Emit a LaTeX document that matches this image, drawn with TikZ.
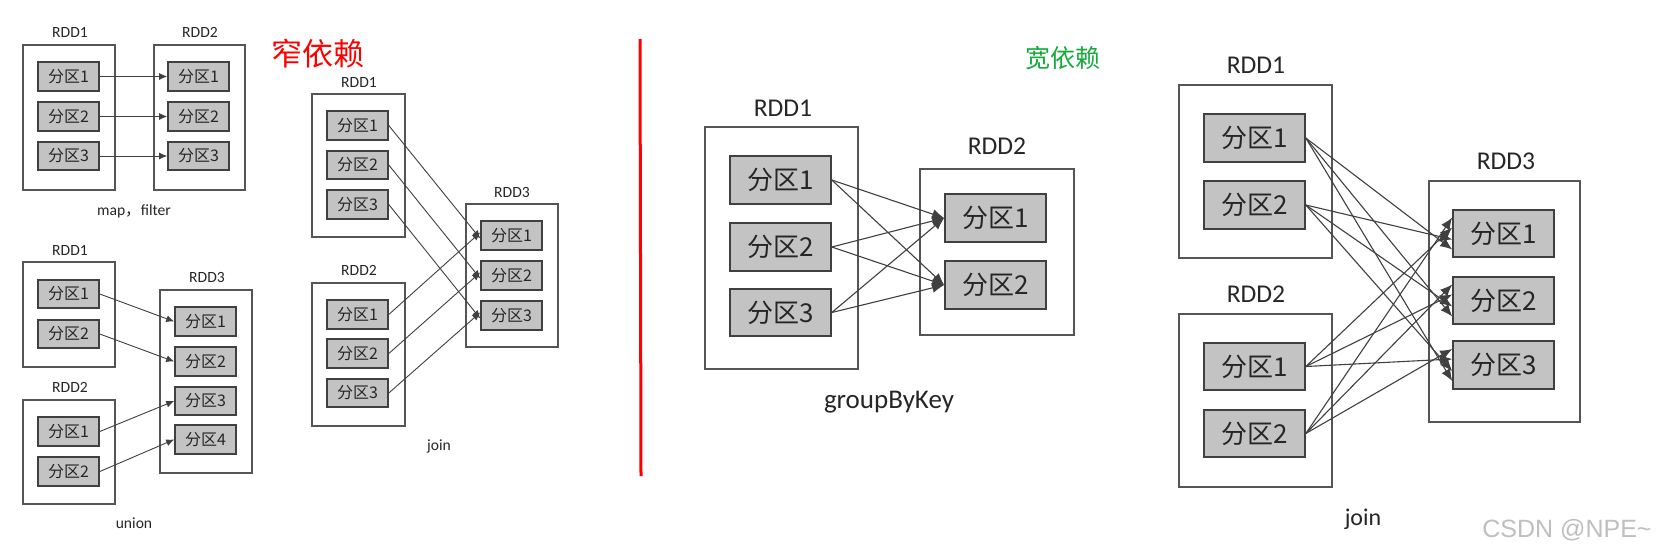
\documentclass[tikz,border=0pt]{standalone}
\usepackage{fontspec}
\setmainfont{Carlito}
\newfontfamily\cjk{Noto Sans CJK SC}
\newfontfamily\lsans{Liberation Sans}
\usetikzlibrary{arrows.meta}
\definecolor{pfill}{HTML}{C3C3C3}
\definecolor{bline}{HTML}{555555}
\tikzset{
  rdd/.style={draw=bline,line width=1.2pt,fill=white,inner sep=0},
  part/.style={draw=black!75,line width=1.6pt,fill=pfill,inner sep=0,text=black!85},
  lab/.style={text=black!85,inner sep=0},
  sarr/.style={draw=black!75,line width=0.9pt,-{Latex[length=8pt,width=7pt]}},
  larr/.style={draw=black!75,line width=1.1pt,-{Latex[length=12pt,width=10pt]}},
}
% \bx{name}{style}{x1}{y1}{x2}{y2}{text}
\newcommand\bx[7]{\node[#2,minimum width={(#5-#3)*1pt},minimum height={(#6-#4)*1pt}] (#1) at ({(#3+#5)/2},{(#4+#6)/2}) {#7};}
\begin{document}
\begin{tikzpicture}[x=1pt,y=-1pt]
\useasboundingbox (0,0) rectangle (1670,554);
\fill[white] (0,0) rectangle (1670,554);
% ---------- map, filter
\def\sf{\cjk\fontsize{16}{16}\selectfont}
\def\sl{\fontsize{15.6}{16}\selectfont}
\bx{mR1}{rdd}{23}{45}{115}{190}{}
\bx{mR2}{rdd}{154}{45}{245}{190}{}
\node[lab,font=\sl] (mL1) at (70,32) {RDD1};
\node[lab,font=\sl] (mL2) at (200,32) {RDD2};
\bx{mp1}{part,font=\sf}{38}{62}{99}{91}{分区1}
\bx{mp2}{part,font=\sf}{38}{102}{99}{131}{分区2}
\bx{mp3}{part,font=\sf}{38}{142}{99}{170}{分区3}
\bx{mq1}{part,font=\sf}{168}{62}{229}{91}{分区1}
\bx{mq2}{part,font=\sf}{168}{102}{229}{131}{分区2}
\bx{mq3}{part,font=\sf}{168}{142}{229}{170}{分区3}
\foreach \i in {1,2,3} \draw[sarr] (mp\i.east) -- (mq\i.west);
\node[lab,font=\sl] (mt) at (134,211) {map{\cjk ，}filter};
% ---------- union
\bx{uR1}{rdd}{23}{262}{115}{367}{}
\bx{uR2}{rdd}{23}{400}{115}{504}{}
\bx{uR3}{rdd}{160}{290}{252}{473}{}
\node[lab,font=\sl] (uL1) at (70,250) {RDD1};
\node[lab,font=\sl] (uL2) at (70,387) {RDD2};
\node[lab,font=\sl] (uL3) at (207,277) {RDD3};
\bx{ua1}{part,font=\sf}{38}{280}{99}{308}{分区1}
\bx{ua2}{part,font=\sf}{38}{320}{99}{348}{分区2}
\bx{ub1}{part,font=\sf}{38}{417}{99}{446}{分区1}
\bx{ub2}{part,font=\sf}{38}{457}{99}{486}{分区2}
\bx{uc1}{part,font=\sf}{175}{307}{236}{336}{分区1}
\bx{uc2}{part,font=\sf}{175}{347}{236}{376}{分区2}
\bx{uc3}{part,font=\sf}{175}{387}{236}{415}{分区3}
\bx{uc4}{part,font=\sf}{175}{425}{236}{454}{分区4}
\draw[sarr] (ua1.east) -- (uc1.west);
\draw[sarr] (ua2.east) -- (uc2.west);
\draw[sarr] (ub1.east) -- (uc3.west);
\draw[sarr] (ub2.east) -- (uc4.west);
\node[lab,font=\sl] (ut) at (134,523) {union};
% ---------- narrow join
\bx{jR1}{rdd}{312}{94}{405}{237}{}
\bx{jR2}{rdd}{312}{283}{405}{426}{}
\bx{jR3}{rdd}{466}{204}{558}{347}{}
\node[lab,font=\sl] (jL1) at (359,82) {RDD1};
\node[lab,font=\sl] (jL2) at (359,270) {RDD2};
\node[lab,font=\sl] (jL3) at (512,192) {RDD3};
\bx{ja1}{part,font=\sf}{327}{111}{388}{140}{分区1}
\bx{ja2}{part,font=\sf}{327}{151}{388}{179}{分区2}
\bx{ja3}{part,font=\sf}{327}{190}{388}{219}{分区3}
\bx{jb1}{part,font=\sf}{327}{300}{388}{329}{分区1}
\bx{jb2}{part,font=\sf}{327}{339}{388}{368}{分区2}
\bx{jb3}{part,font=\sf}{327}{379}{388}{407}{分区3}
\bx{jc1}{part,font=\sf}{481}{221}{542}{250}{分区1}
\bx{jc2}{part,font=\sf}{481}{261}{542}{290}{分区2}
\bx{jc3}{part,font=\sf}{481}{301}{542}{330}{分区3}
\foreach \i in {1,2,3} {
  \draw[sarr] (ja\i.east) -- ([yshift=-3pt]jc\i.west);
  \draw[sarr] (jb\i.east) -- ([yshift=3pt]jc\i.west);
}
\node[lab,font=\sl] (jt) at (439,446) {join};
\node[lab,text=red,font={\cjk\fontsize{31}{31}\selectfont}] (nt) at (318,54) {窄依赖};
% ---------- divider
\coordinate (d1) at (640,39);
\coordinate (d2) at (641,476);
\draw[red,line width=3pt] (d1) -- (d2);
% ---------- groupByKey
\def\bf{\cjk\fontsize{26}{26}\selectfont}
\def\bl{\fontsize{25.6}{26}\selectfont}
\node[lab,text={rgb,255:red,20;green,170;blue,60},font={\cjk\fontsize{25}{25}\selectfont}] (wt) at (1063,58) {宽依赖};
\bx{gR1}{rdd}{705}{127}{858}{369}{}
\bx{gR2}{rdd}{920}{169}{1074}{335}{}
\node[lab,font=\bl] (gL1) at (783,108) {RDD1};
\node[lab,font=\bl] (gL2) at (997,146) {RDD2};
\bx{ga1}{part,font=\bf}{730}{156}{831}{204}{分区1}
\bx{ga2}{part,font=\bf}{730}{223}{831}{271}{分区2}
\bx{ga3}{part,font=\bf}{730}{289}{831}{336}{分区3}
\bx{gb1}{part,font=\bf}{945}{194}{1046}{242}{分区1}
\bx{gb2}{part,font=\bf}{945}{261}{1046}{309}{分区2}
\foreach \i in {1,2,3} \foreach \j in {1,2} \draw[larr] (ga\i.east) -- (gb\j.west);
\node[lab,font={\fontsize{27}{27}\selectfont}] (gt) at (889,402) {groupByKey};
% ---------- wide join
\bx{wR1}{rdd}{1179}{85}{1332}{258}{}
\bx{wR2}{rdd}{1179}{314}{1332}{487}{}
\bx{wR3}{rdd}{1429}{181}{1580}{422}{}
\node[lab,font=\bl] (wL1) at (1256,65) {RDD1};
\node[lab,font=\bl] (wL2) at (1256,294) {RDD2};
\node[lab,font=\bl] (wL3) at (1506,161) {RDD3};
\bx{wa1}{part,font=\bf}{1204}{114}{1305}{162}{分区1}
\bx{wa2}{part,font=\bf}{1204}{181}{1305}{229}{分区2}
\bx{wb1}{part,font=\bf}{1204}{343}{1305}{390}{分区1}
\bx{wb2}{part,font=\bf}{1204}{410}{1305}{457}{分区2}
\bx{wc1}{part,font=\bf}{1453}{210}{1554}{257}{分区1}
\bx{wc2}{part,font=\bf}{1453}{277}{1554}{324}{分区2}
\bx{wc3}{part,font=\bf}{1453}{341}{1554}{389}{分区3}
\foreach \j in {1,2,3} {
  \draw[larr] (wa1.east) -- ([yshift=-16pt]wc\j.west);
  \draw[larr] (wa2.east) -- ([yshift=-6pt]wc\j.west);
  \draw[larr] (wb1.east) -- ([yshift=6pt]wc\j.west);
  \draw[larr] (wb2.east) -- ([yshift=16pt]wc\j.west);
}
\node[lab,font={\fontsize{24}{24}\selectfont}] (wjt) at (1363,519) {join};
\node[lab,text=black!25,font={\lsans\fontsize{25}{25}\selectfont}] (wm) at (1567,530) {CSDN @NPE\char`~};
\end{tikzpicture}
\end{document}
